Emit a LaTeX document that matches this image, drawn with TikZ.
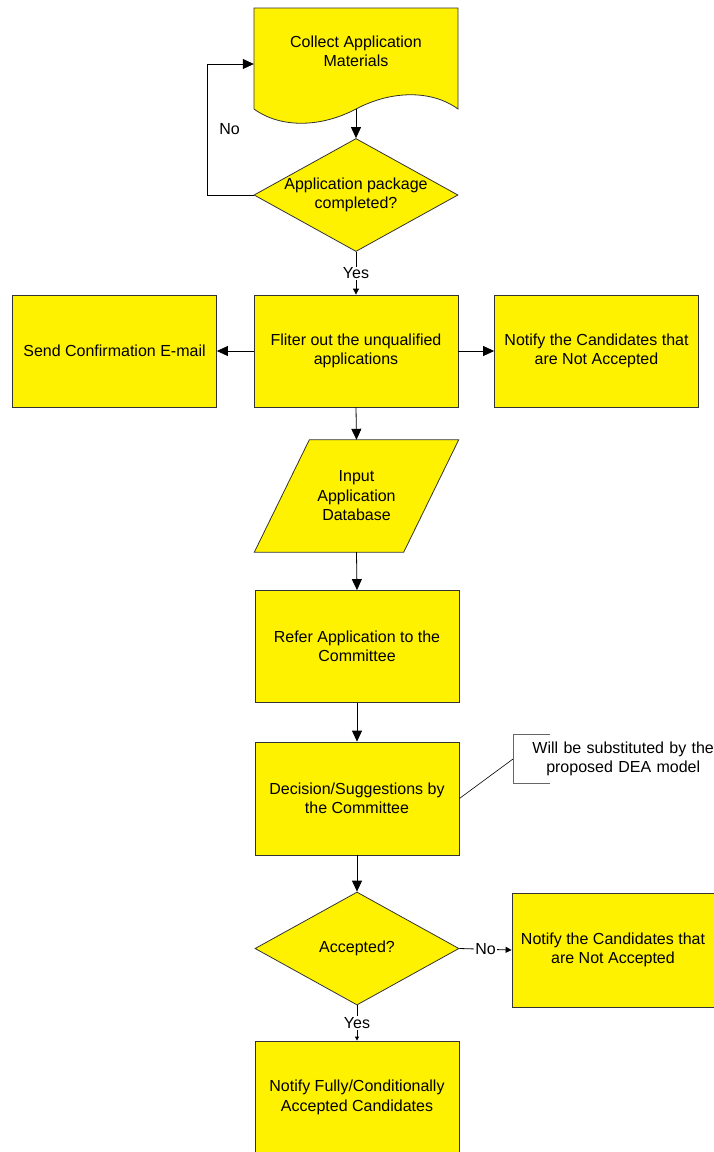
\documentclass[tikz,border=0pt]{standalone}
\usepackage{fontspec}
\setmainfont{Liberation Sans}
\usetikzlibrary{shapes.geometric,arrows.meta,backgrounds,calc}
\begin{document}
\begin{tikzpicture}[x=1pt,y=-1pt,
  every node/.style={font=\fontsize{16}{19.5}\selectfont, align=center, text=black},
  shp/.style={draw=black!80, fill=yellow, line width=0.8pt},
  box/.style={shp, minimum width=204pt, minimum height=112pt, inner sep=2pt},
  txt/.style={draw=none, fill=none, minimum width=204pt, inner sep=0pt},
  dia/.style={shp, diamond, minimum width=204pt, minimum height=113pt, inner sep=0pt},
  arr/.style={draw=black, line width=0.8pt, -{Triangle[length=11pt,width=10pt]}},
  sarr/.style={draw=black, line width=0.8pt, -{Triangle[length=6pt,width=6pt]}},
  lab/.style={fill=white, inner sep=1pt},
  ann/.style={draw=black!60, line width=0.7pt}
]
\useasboundingbox (0,0) rectangle (714,1152);
\begin{scope}[on background layer]
\fill[white] (0,0) rectangle (714,1152);
\end{scope}

% document shape
\draw[shp] (254,8) -- (458,8) -- (458,109)
  .. controls (432,90) and (392,90) .. (356,109)
  .. controls (320,128) and (280,128) .. (254,109) -- cycle;
\node[txt] (coll) at (356,51.5) {Collect Application\\Materials};
\coordinate (collb) at (356,109);

% decision 1
\node[dia, label={[name=d1t]center:{Application package\\completed?}}] (d1) at (356,195) {};

% filter row
\node[box] (filt) at (356,351) {Fliter out the unqualified\\applications};
\node[box] (send) at (114.5,351) {Send Confirmation E-mail};
\node[box] (rej1) at (596.5,351) {Notify the Candidates that\\are Not Accepted};

% input parallelogram
\node[txt, minimum height=112pt] (inp) at (356.5,496) {Input\\Application\\Database};
\begin{scope}[on background layer]
\draw[shp] ($(inp.north west)+(55,0)$) -- (inp.north east) -- ($(inp.south east)+(-55,0)$) -- (inp.south west) -- cycle;
\end{scope}

\node[box] (refer) at (357,646.5) {Refer Application to the\\Committee};
\node[box, minimum height=113pt] (dec) at (357,798.5) {Decision/Suggestions by\\the Committee};

% annotation
\node[draw=none, anchor=west, minimum height=48pt, inner xsep=0pt, text width=220pt] (note) at (513,759) {Will be substituted by the\\proposed DEA model};
\draw[ann] ([xshift=37pt]note.north west) -- (note.north west) -- (note.south west) -- ([xshift=37pt]note.south west);
\draw[line width=0.6pt] (dec.east) -- (note.west);

% decision 2
\node[dia, label={[name=d2t]center:{Accepted?}}] (d2) at (357,948.5) {};
\node[box, minimum width=202pt, minimum height=114pt] (rej2) at (613,950) {Notify the Candidates that\\are Not Accepted};
\node[box, minimum height=113pt] (acc) at (357,1097.5) {Notify Fully/Conditionally\\Accepted Candidates};

% connectors
\draw[arr] (collb) -- (d1.north);
\draw[arr] (d1.west) -- ++(-46,0) |- node[pos=0.25, anchor=west, xshift=8pt] {No} ($(coll.west)+(0,12.5)$);
\draw[sarr] (d1.south) -- node[lab] {Yes} (filt.north);
\draw[arr] (filt.west) -- (send.east);
\draw[arr] (filt.east) -- (rej1.west);
\draw[arr] (filt.south) -- (inp.north);
\draw[arr] (inp.south) -- (refer.north);
\draw[arr] (refer.south) -- (dec.north);
\draw[arr] (dec.south) -- (d2.north);
\draw[sarr] (d2.east) -- node[lab] {No} (rej2.west);
\draw[draw=black, line width=0.8pt, -{Triangle[length=4pt,width=4pt]}] (d2.south) -- node[lab] {Yes} (acc.north);
\end{tikzpicture}
\end{document}
